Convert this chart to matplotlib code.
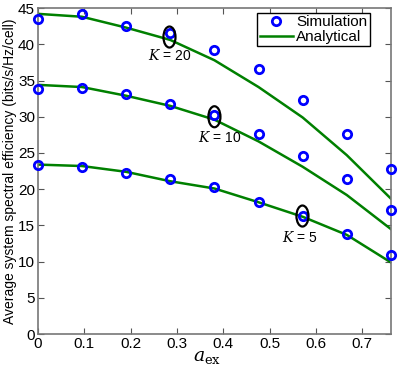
import numpy as np
import matplotlib.pyplot as plt
from matplotlib.patches import Ellipse

plt.rcParams['font.family'] = ['Liberation Sans', 'DejaVu Sans']
plt.rcParams['mathtext.fontset'] = 'dejavuserif'

# x positions (a_ex)
a_ex = np.arange(9) * 2 / 21

sim_k20 = [43.5, 44.2, 42.5, 41.6, 39.2, 36.6, 32.3, 27.6, 22.8]
sim_k10 = [33.8, 33.9, 33.1, 31.7, 30.2, 27.6, 24.6, 21.4, 17.1]
sim_k5 = [23.3, 23.1, 22.2, 21.4, 20.3, 18.3, 16.3, 13.8, 10.9]

ana_k20 = [44.2, 43.8, 42.3, 40.6, 37.8, 34.1, 29.9, 24.7, 18.7]
ana_k10 = [34.4, 34.1, 32.9, 31.5, 29.6, 26.6, 23.1, 19.2, 14.5]
ana_k5 = [23.4, 23.2, 22.4, 21.1, 20.1, 18.2, 16.2, 13.7, 9.9]

# annotation: (x, y center of ellipse, label, label x, label y)
notes = [(0.284, 41.0, '$K$ = 20', 0.284, 38.5),
         (0.381, 30.0, '$K$ = 10', 0.392, 27.1),
         (0.571, 16.3, '$K$ = 5', 0.566, 13.4)]

fig = plt.figure(figsize=(4.03, 3.66), dpi=100)
ax = fig.add_axes([0.094, 0.087, 0.876, 0.891])

green = (0, 0.5, 0)
for i, (s, a) in enumerate([(sim_k20, ana_k20), (sim_k10, ana_k10), (sim_k5, ana_k5)]):
    ax.plot(a_ex, s, 'o', mfc='none', mec='blue', mew=2, ms=6,
            label='Simulation' if i == 0 else None, zorder=3, clip_on=False)
    ax.plot(a_ex, a, '-', color=green, lw=1.8,
            label='Analytical' if i == 0 else None)

for x, y, lab, tx, ty in notes:
    ax.add_patch(Ellipse((x, y), 0.026, 2.9, fill=False, ec='black', lw=1.6, zorder=4))
    ax.text(tx, ty, lab, ha='center', va='center', fontsize=10)

ax.set_xlim(0, 16 / 21)
ax.set_ylim(0, 45)
ax.set_xticks(np.arange(0, 0.75, 0.1))
ax.set_xticklabels(['0', '0.1', '0.2', '0.3', '0.4', '0.5', '0.6', '0.7'])
ax.set_yticks(np.arange(0, 46, 5))
ax.tick_params(direction='in', top=True, right=True, labelsize=11, length=4,
               color='#555555', pad=2)
for sp in ax.spines.values():
    sp.set_color('#777777')
    sp.set_linewidth(1.2)

ax.set_xlabel(r'$a_{\rm ex}$', fontsize=13.5)
ax.xaxis.set_label_coords(0.48, -0.045)
ax.set_ylabel('Average system spectral efficiency (bits/s/Hz/cell)', fontsize=10, labelpad=1)

leg = ax.legend(loc='upper right', bbox_to_anchor=(0.94, 0.985), fontsize=11,
                fancybox=False, framealpha=1, edgecolor='black', borderpad=0.15,
                handlelength=2.2, handletextpad=0.2, labelspacing=0.05,
                borderaxespad=0)
leg.get_frame().set_linewidth(1.0)

fig.savefig('out.png', dpi=100)
